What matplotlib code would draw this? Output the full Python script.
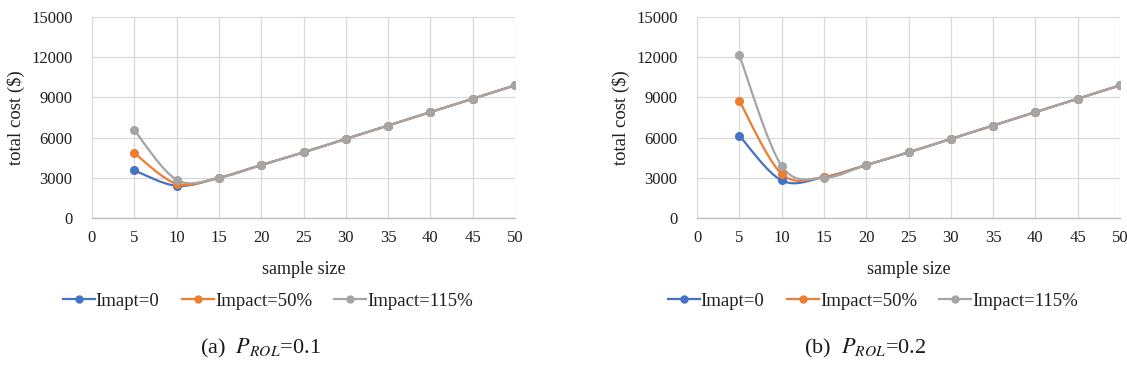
import matplotlib
matplotlib.use("Agg")
import matplotlib.pyplot as plt
from matplotlib.path import Path
from matplotlib.patches import PathPatch
from matplotlib.lines import Line2D
import numpy as np

plt.rcParams['font.family'] = ['Liberation Serif', 'DejaVu Serif']
plt.rcParams['mathtext.fontset'] = 'stix'

# sample sizes on the x axis
sample_size = [5, 10, 15, 20, 25, 30, 35, 40, 45, 50]

# (a) P_ROL = 0.1
a_impact0 = [3550, 2400, 3000, 3950, 4900, 5900, 6900, 7900, 8900, 9900]
a_impact50 = [4850, 2550, 3000, 3950, 4900, 5900, 6900, 7900, 8900, 9900]
a_impact115 = [6550, 2850, 3000, 3950, 4900, 5900, 6900, 7900, 8900, 9900]

# (b) P_ROL = 0.2
b_impact0 = [6150, 2800, 3050, 3950, 4900, 5900, 6900, 7900, 8900, 9900]
b_impact50 = [8750, 3300, 3050, 3950, 4900, 5900, 6900, 7900, 8900, 9900]
b_impact115 = [12150, 3900, 3000, 3950, 4900, 5900, 6900, 7900, 8900, 9900]

series_labels = ['Imapt=0', 'Impact=50%', 'Impact=115%']
series_colors = ['#4472C4', '#ED7D31', '#A5A5A5']

x_ticks = list(range(0, 55, 5))
y_ticks = [0, 3000, 6000, 9000, 12000, 15000]

W, H = 1127, 381
fig = plt.figure(figsize=(W / 100, H / 100), dpi=100)
TEXT = '#1f1f1f'


def smooth_path(xs, ys):
    """Cubic Bezier path through the points (Catmull-Rom style smoothing)."""
    pts = np.column_stack([xs, ys]).astype(float)
    n = len(pts)
    verts = [pts[0]]
    codes = [Path.MOVETO]
    for i in range(n - 1):
        p0 = pts[i - 1] if i > 0 else pts[i]
        p1 = pts[i]
        p2 = pts[i + 1]
        p3 = pts[i + 2] if i + 2 < n else pts[i + 1]
        c1 = p1 + (p2 - p0) / 6.0
        c2 = p2 - (p3 - p1) / 6.0
        verts += [c1, c2, p2]
        codes += [Path.CURVE4] * 3
    return Path(verts, codes)


def draw_panel(px_left, series, caption):
    ax = fig.add_axes([px_left / W, (H - 218) / H, 423 / W, 201 / H])
    ax.set_xlim(0, 50)
    ax.set_ylim(0, 15000)
    ax.set_xticks(x_ticks)
    ax.set_yticks(y_ticks)
    ax.grid(True, color='#d9d9d9', linewidth=0.9)
    ax.set_axisbelow(True)
    for s in ['top', 'right', 'left']:
        ax.spines[s].set_visible(False)
    ax.spines['bottom'].set_color('#bfbfbf')
    ax.spines['bottom'].set_linewidth(1.0)
    ax.tick_params(axis='both', length=0, labelsize=12, colors=TEXT)
    ax.tick_params(axis='y', pad=14)
    ax.tick_params(axis='x', pad=9)

    for ys, col in zip(series, series_colors):
        ax.add_patch(PathPatch(smooth_path(sample_size, ys), facecolor='none',
                               edgecolor=col, linewidth=1.6, zorder=3))
        ax.plot(sample_size, ys, linestyle='none', marker='o', markersize=5.5,
                color=col, zorder=4)

    ax.set_xlabel('sample size', fontsize=13, color=TEXT, va='center')
    ax.xaxis.set_label_coords(0.5, -(270 - 218) / 201)
    ax.set_ylabel('total cost ($)', fontsize=13.5, color=TEXT, va='center')
    ax.yaxis.set_label_coords(-(92 - 16) / 423, 0.5)

    handles = [Line2D([], [], color=c, marker='o', markersize=5, linewidth=1.6)
               for c in series_colors]
    fig.legend(handles, series_labels, loc='center',
               bbox_to_anchor=((px_left + 176) / W, 1 - 301 / H), ncol=3,
               frameon=False, fontsize=13.5, handlelength=1.7,
               handletextpad=0.05, columnspacing=1.2, labelcolor=TEXT)
    fig.text((px_left + 168) / W, 1 - 348 / H, caption, ha='center',
             va='center', fontsize=16, color='#1a1a1a')
    return ax


draw_panel(92, [a_impact0, a_impact50, a_impact115], r'(a)  $P_{ROL}$=0.1')
draw_panel(697, [b_impact0, b_impact50, b_impact115], r'(b)  $P_{ROL}$=0.2')

fig.savefig('out.png', dpi=100)
